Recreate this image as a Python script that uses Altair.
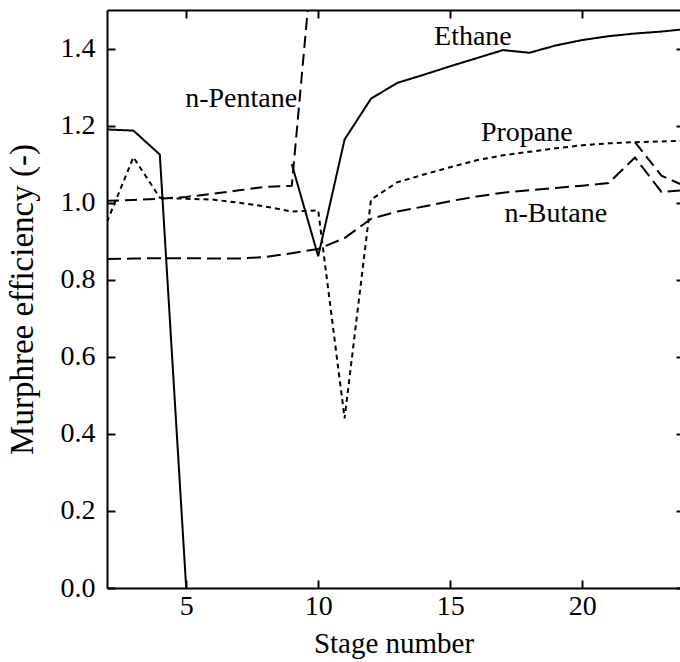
import altair as alt
import pandas as pd

# Stage numbers along the column
stages = list(range(2, 25))

# Murphree efficiency per component (None = not defined at that stage)
ethane = [1.19, 1.187, 1.125, 0.0, None, None, None, 1.10, 0.861, 1.164, 1.27,
          1.311, 1.332, 1.354, 1.375, 1.396, 1.389, 1.408, 1.422, 1.432, 1.439,
          1.444, 1.451]
propane = [0.95, 1.118, 1.013, 1.01, 1.008, 1.0, 0.99, 0.977, 0.98, 0.44, 1.008,
           1.053, 1.073, 1.092, 1.11, 1.123, 1.132, 1.141, 1.149, 1.154, 1.157,
           1.159, 1.161]
n_butane = [0.854, 0.855, 0.856, 0.856, 0.855, 0.855, 0.859, 0.869, 0.88, 0.908,
            0.958, 0.977, 0.99, 1.004, 1.016, 1.026, 1.032, 1.038, 1.044, 1.051,
            1.117, 1.028, 1.033]
n_pentane = [1.005, 1.007, 1.01, 1.015, 1.023, 1.032, 1.041, 1.044, 1.80, None,
             None, None, None, None, None, None, None, None, None, None,
             1.157, 1.07, 1.04]

series_names = ["Ethane", "Propane", "n-Butane", "n-Pentane"]
series_values = [ethane, propane, n_butane, n_pentane]
series_dashes = [[1, 0], [5, 4], [14, 6], [12, 6]]

# In-plot series labels
label_text = ["Ethane", "n-Pentane", "Propane", "n-Butane"]
label_stage = [15.86, 7.08, 17.9, 19.0]
label_eff = [1.429, 1.27, 1.18, 0.97]

x_ticks = [5, 10, 15, 20]
y_ticks = [0.0, 0.2, 0.4, 0.6, 0.8, 1.0, 1.2, 1.4]

# Long-form table; undefined stages split each curve into separate parts
rows = []
for name, vals in zip(series_names, series_values):
    part = 0
    gap = True
    for s, v in zip(stages, vals):
        if v is None:
            gap = True
            continue
        if gap:
            part += 1
            gap = False
        rows.append({"series": name, "part": f"{name}-{part}", "stage": s, "eff": v})
df = pd.DataFrame(rows)

labels = pd.DataFrame({"text": label_text, "stage": label_stage, "eff": label_eff})

FONT = "Liberation Serif"
PX_PER_STAGE = 26.4
PLOT_W = 573
# the frame runs on past the right edge of the page, up to stage 24
x_scale = alt.Scale(domain=[2, 2 + PLOT_W / PX_PER_STAGE], nice=False, zero=False)
y_scale = alt.Scale(domain=[0, 1.5], nice=False, zero=False)

# inward ticks: axis line pushed 8px into the plot, ticks reach back to the frame
lines = alt.Chart(df).mark_line(clip=True, strokeWidth=2, color="black").encode(
    x=alt.X("stage:Q", scale=x_scale,
            axis=alt.Axis(orient="bottom", values=x_ticks, format="d", offset=-8,
                          tickSize=8, domain=False, grid=False, labelPadding=4,
                          title="Stage number", titlePadding=9, titleFontSize=29)),
    y=alt.Y("eff:Q", scale=y_scale,
            axis=alt.Axis(orient="left", values=y_ticks, format=".1f", offset=-8,
                          tickSize=8, domain=False, grid=False, labelPadding=12,
                          title="Murphree efficiency (-)", titlePadding=21,
                          titleFontSize=33)),
    strokeDash=alt.StrokeDash("series:N",
                              scale=alt.Scale(domain=series_names, range=series_dashes),
                              legend=None),
    detail="part:N",
)

text = alt.Chart(labels).mark_text(font=FONT, fontSize=28, color="black").encode(
    x=alt.X("stage:Q", scale=x_scale,
            axis=alt.Axis(orient="top", values=x_ticks, offset=-8, tickSize=8,
                          domain=False, grid=False, labels=False, title=None)),
    y=alt.Y("eff:Q", scale=y_scale,
            axis=alt.Axis(orient="right", values=y_ticks, offset=-4, tickSize=8,
                          domain=False, grid=False, labels=False, title=None)),
    text="text:N",
)

# frame lines on the left, bottom and top
frame_lb = alt.Chart(labels).mark_point(opacity=0).encode(
    x=alt.X("stage:Q", scale=x_scale,
            axis=alt.Axis(orient="bottom", domain=True, ticks=False, labels=False,
                          grid=False, title=None)),
    y=alt.Y("eff:Q", scale=y_scale,
            axis=alt.Axis(orient="left", domain=True, ticks=False, labels=False,
                          grid=False, title=None)),
)
frame_t = alt.Chart(labels).mark_point(opacity=0).encode(
    x=alt.X("stage:Q", scale=x_scale,
            axis=alt.Axis(orient="top", domain=True, ticks=False, labels=False,
                          grid=False, title=None)),
    y=alt.Y("eff:Q", scale=y_scale, axis=None),
)

chart = alt.layer(lines, text, frame_lb, frame_t).resolve_axis(
    x="independent", y="independent"
).properties(
    width=PLOT_W,
    height=578,
    autosize=alt.AutoSizeParams(type="none"),
    padding={"left": 107, "top": 10, "right": 0, "bottom": 74},
).configure_view(
    stroke=None
).configure_axis(
    tickColor="black", tickWidth=2, domainColor="black", domainWidth=2,
    labelFont=FONT, labelFontSize=28, labelColor="black",
    titleFont=FONT, titleFontSize=28, titleFontWeight="normal", titleColor="black",
)

chart.save("out.html", embed_options={"renderer": "svg", "actions": False})
